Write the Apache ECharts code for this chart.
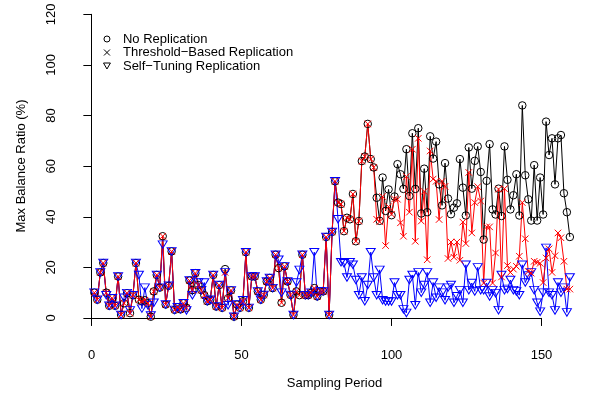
<!DOCTYPE html>
<html>
<head>
<meta charset="utf-8">
<script src="https://cdn.jsdelivr.net/npm/echarts@6/dist/echarts.min.js"></script>
<style>
  html, body { margin: 0; padding: 0; background: #fff; }
  #chart { width: 589px; height: 397px; }
</style>
</head>
<body>
<div id="chart"></div>
<script>
// ── Max balance ratio per sampling period ──

const noReplication = [
  10, 7.2, 18, 21.7, 10, 4.8, 7.8, 4.8, 16.4, 1.2,
  5.8, 9.8, 1.9, 9, 21.7, 7.2, 6.6, 7, 5.8, 0.5,
  10.5, 17, 12, 32.3, 5.3, 12.7, 26.3, 3.2, 4.2, 3.4,
  5.8, 4, 14.8, 11, 17.7, 13, 11, 9, 6.6, 7.2,
  17, 4.5, 13, 4, 19.3, 7.8, 10.9, 0.5, 5.3, 4,
  6.6, 26, 4, 16.4, 16.4, 10.5, 7.2, 9.1, 14.4, 15.8,
  11.8, 25, 19.7, 6, 20.4, 14.4, 9.1, 1.2, 10.5, 9,
  25, 9, 9, 10, 11.8, 8.5, 10.5, 10.5, 32, 1.2,
  34, 54, 45.6, 45, 34.3, 39.6, 39, 49, 30.3, 38.3,
  62, 63.8, 76.7, 62.8, 59.5, 47.5, 38.4, 55.5, 42.3, 50.8,
  40.6, 48, 60.8, 56.8, 51, 66.7, 48.2, 73, 51, 75,
  41.3, 59, 41.8, 71.8, 63, 69.7, 52.8, 44.5, 61.2, 47.2,
  41, 43.6, 45.3, 62.8, 51.5, 40.5, 67.4, 51.1, 62.1, 67.8,
  57.7, 31, 54.2, 68.7, 42.9, 40.9, 51.1, 40.3, 67.8, 54.6,
  42.9, 48.5, 56.8, 40.5, 84, 56.4, 46.9, 38.5, 60.4, 38.5,
  55.5, 40.9, 77.6, 64.4, 71, 52.8, 71, 72.3, 49.3, 41.8,
  32
];

const thresholdBased = [
  10, 7.2, 18, 21.7, 10, 4.8, 7.8, 4.8, 16.4, 1.2,
  5.8, 9.8, 1.9, 9, 21.7, 7.2, 6.6, 7, 5.8, 0.5,
  10.5, 17, 12, 32.3, 5.3, 12.7, 26.3, 3.2, 4.2, 3.4,
  5.8, 4, 14.8, 11, 17.7, 13, 11, 9, 6.6, 7.2,
  17, 4.5, 13, 4, 18, 7.8, 10.9, 0.5, 5.3, 4,
  6.6, 26, 4, 16.4, 16.4, 10.5, 7.2, 9.1, 14.4, 15.8,
  11.8, 25, 19.7, 6, 20.4, 14.4, 9.1, 1.2, 10.5, 9,
  25, 9, 9, 10, 11.8, 8.5, 10.5, 10.5, 32, 1.2,
  34, 54, 45.6, 45, 34.3, 39.6, 39, 49, 30.3, 38.3,
  62, 63.8, 76.7, 62.8, 59.5, 39, 38, 48, 28.6, 44,
  41, 47, 46.9, 37.6, 32.3, 55.9, 41.8, 66.7, 30.3, 71,
  38.3, 50, 23, 66, 54.9, 54, 38.9, 54, 52, 23.5,
  30, 24, 30, 22.8, 37.9, 29.4, 57.5, 33.6, 45.6, 51.9,
  46.2, 13.8, 36, 36, 13.8, 25.7, 50.9, 16.2, 51.1, 20.7,
  18, 19.3, 20.4, 24.4, 45.6, 31.3, 18.4, 17.7, 22.4, 22,
  21.6, 14, 23.7, 27.3, 18, 24.6, 33.6, 31.7, 22.4, 11.4,
  11.4
];

const selfTuning = [
  10, 7.2, 18, 21.7, 9, 4.8, 7.8, 4.8, 16.4, 1.2,
  8, 9.8, 3, 9, 21.7, 17, 3.7, 12, 5, 1,
  6, 17, 12, 29, 5.3, 12.7, 26.3, 3.2, 4.2, 3.4,
  5.8, 3, 14.8, 9, 17.7, 14, 11, 14, 6.6, 7.2,
  17, 4.5, 13, 4, 18, 5, 10.9, 0.5, 5.3, 4,
  7, 26, 4, 16.4, 16.4, 10.5, 7.2, 9.1, 14.4, 15.8,
  11.8, 25, 23, 10, 20.4, 14.4, 9.1, 1.2, 14, 19,
  25, 9, 9, 10, 26, 8.5, 10.5, 10.5, 32, 1.2,
  34, 54, 39, 22, 21.6, 16, 22, 21, 15, 9,
  16, 6.6, 13, 26, 16, 9, 19, 7, 6.5, 6.5,
  6.5, 14, 9, 9, 3.4, 2, 15, 17, 5, 18,
  10, 13, 18, 6, 14, 8, 12, 10, 7, 12,
  13, 6, 8.6, 11, 6, 21, 11, 13.8, 10.5, 20,
  11, 11, 13.8, 8.5, 11, 9.8, 3.1, 17, 11, 11.5,
  15, 11, 10.5, 9, 21, 14, 16.8, 18, 11, 6,
  2.5, 10, 27.7, 10, 9, 3, 14, 10, 12, 2.2,
  16
];

const xTicks = [0, 50, 100, 150];
const yTicks = [0, 20, 40, 60, 80, 100, 120];

const FONT = '"Liberation Sans", Arial, Helvetica, sans-serif';
const CROSS = 'path://M0,0L10,10M10,0L0,10';
const TRI_DOWN = 'path://M0,0L10,0L5,8.66Z';

// sampling period starts at 1
const toPairs = arr => arr.map((v, i) => [i + 1, v]);

const chart = echarts.init(document.getElementById('chart'), null, { renderer: 'canvas' });

const hidden = { show: false };
const axisText = { color: '#000', fontSize: 13, fontFamily: FONT };
const blackLine = { color: '#000', width: 1 };

function lineSeries(name, data, color, symbol, size) {
  return {
    name, type: 'line', xAxisIndex: 0, yAxisIndex: 0,
    data: toPairs(data),
    symbol, symbolSize: size, showAllSymbol: true,
    lineStyle: { color, width: 1 },
    itemStyle: { color: 'rgba(0,0,0,0)', borderColor: color, borderWidth: 1 },
    emphasis: { disabled: true },
    z: 2,
  };
}

chart.setOption({
  animation: false,
  backgroundColor: '#fff',
  grid: [
    // plotting region (R adds 4% on each side)
    { left: 75.2, top: 2.2, width: 518.6, height: 327.9 },
    // x axis: drawn only from 0 to 150
    { left: 91.5, top: 2.2, width: 450, height: 327.9 },
    // y axis: drawn only from 0 to 120
    { left: 75.2, top: 14.3, width: 518.6, height: 303.7 },
  ],
  xAxis: [
    { gridIndex: 0, type: 'value', min: -5.44, max: 167.44, show: false },
    {
      gridIndex: 1, type: 'value', min: xTicks[0], max: xTicks[xTicks.length - 1], interval: 50,
      axisLine: { show: true, lineStyle: blackLine },
      axisTick: { show: true, length: 8, lineStyle: blackLine },
      axisLabel: Object.assign({ margin: 19 }, axisText),
      splitLine: hidden,
    },
    { gridIndex: 2, type: 'value', min: -5.44, max: 167.44, show: false },
  ],
  yAxis: [
    { gridIndex: 0, type: 'value', min: -4.8, max: 124.8, show: false },
    { gridIndex: 1, type: 'value', min: -4.8, max: 124.8, show: false },
    {
      gridIndex: 2, type: 'value', min: yTicks[0], max: yTicks[yTicks.length - 1], interval: 20,
      axisLine: { show: true, lineStyle: blackLine },
      axisTick: { show: true, length: 8, lineStyle: blackLine },
      axisLabel: Object.assign({ margin: 17, rotate: 90 }, axisText),
      splitLine: hidden,
    },
  ],
  legend: {
    orient: 'vertical',
    left: 98, top: 27.5,
    itemWidth: 22, itemHeight: 6, itemGap: 0.5,
    selectedMode: false,
    textStyle: { color: '#000', fontSize: 13, fontFamily: FONT, lineHeight: 13 },
    data: [
      { name: 'No Replication', icon: 'circle', itemStyle: { color: 'rgba(0,0,0,0)', borderColor: '#000', borderWidth: 1 } },
      { name: 'Threshold\u2212Based Replication', icon: CROSS, itemStyle: { color: 'rgba(0,0,0,0)', borderColor: '#000', borderWidth: 1 } },
      { name: 'Self\u2212Tuning Replication', icon: TRI_DOWN, itemStyle: { color: 'rgba(0,0,0,0)', borderColor: '#000', borderWidth: 1 } },
    ],
  },
  graphic: [
    { type: 'text', x: 334.5, y: 383, style: { text: 'Sampling Period', fill: '#000', fontSize: 13, fontFamily: FONT, align: 'center', verticalAlign: 'middle' } },
    { type: 'text', x: 21, y: 166, rotation: Math.PI / 2, style: { text: 'Max Balance Ratio (%)', fill: '#000', fontSize: 13, fontFamily: FONT, align: 'center', verticalAlign: 'middle' } },
  ],
  series: [
    lineSeries('No Replication', noReplication, '#000', 'circle', 7.5),
    lineSeries('Self\u2212Tuning Replication', selfTuning, '#0000ff', TRI_DOWN, [9, 7.5]),
    lineSeries('Threshold\u2212Based Replication', thresholdBased, '#ff0000', CROSS, 6.5),
  ],
});
</script>
</body>
</html>
